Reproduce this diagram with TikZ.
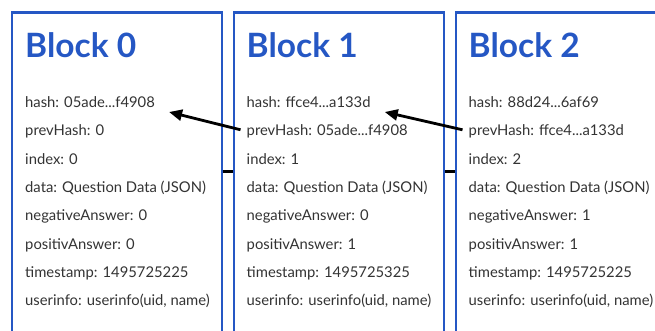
\documentclass[tikz,border=0pt]{standalone}
\usepackage{fontspec}
\setmainfont{Lato}
\usetikzlibrary{arrows.meta,calc}
\definecolor{chainblue}{HTML}{2557C4}
\definecolor{fieldgray}{HTML}{333333}
\newcommand\hashgap{...}
\tikzset{
  blockbox/.style={draw=chainblue, line width=2.2pt, minimum width=210pt,
    minimum height=340pt, anchor=north west, inner sep=0pt},
  blocktitle/.style={anchor=base west, inner sep=0pt, text=chainblue,
    font=\fontsize{33.5}{36}\selectfont\bfseries},
  field/.style={anchor=base west, inner sep=0pt, text=fieldgray,
    font=\fontsize{14.8}{17}\selectfont},
  link/.style={line width=2.8pt, black},
  ptr/.style={line width=2.8pt, black, -{Triangle[length=13pt,width=11pt]}},
}
\begin{document}
\begin{tikzpicture}[x=1pt,y=-1pt]
  \useasboundingbox (0,0) rectangle (655,331);
  \clip (0,0) rectangle (655,331);

  % the three blocks of the chain
  \node[blockbox] (b0) at (10.5,11.5) {};
  \node[blockbox] (b1) at (232.7,11.5) {};
  \node[blockbox] (b2) at (454.8,11.5) {};

  % short joints between neighbouring blocks
  \coordinate (joint) at (0,171.7);
  \draw[link] (b0.east |- joint) -- (b1.west |- joint);
  \draw[link] (b1.east |- joint) -- (b2.west |- joint);

  % block contents
  \foreach \i/\x/\h/\p/\neg/\pos/\ts in {
      0/25/{05ade\hashgap f4908}/0/0/0/1495725225,
      1/246.5/{ffce4\hashgap a133d}/{05ade\hashgap f4908}/0/1/1495725325,
      2/468.5/{88d24\hashgap 6af69}/{ffce4\hashgap a133d}/1/1/1495725225}{
    \node[blocktitle] (title\i) at (\x,57.5) {Block \i};
    \node[field] (hash\i)  at (\x,107.5) {hash: \h};
    \node[field] (prev\i)  at (\x,135.8) {prevHash: \p};
    \node[field] (index\i) at (\x,164.1) {index: \i};
    \node[field] (data\i)  at (\x,192.4) {data: Question Data (JSON)};
    \node[field] (neg\i)   at (\x,220.7) {negativeAnswer: \neg};
    \node[field] (pos\i)   at (\x,249.0) {positivAnswer: \pos};
    \node[field] (time\i)  at (\x,277.3) {timestamp: \ts};
    \node[field] (user\i)  at (\x,305.6) {userinfo: userinfo(uid, name)};
  }

  % each prevHash points back to the hash of the block before
  \draw[ptr] ($(prev1.base west)+(-6,-6)$) -- ($(hash0.base east)+(14,4.5)$);
  \draw[ptr] ($(prev2.base west)+(-6,-6)$) -- ($(hash1.base east)+(14,4.5)$);
\end{tikzpicture}
\end{document}
